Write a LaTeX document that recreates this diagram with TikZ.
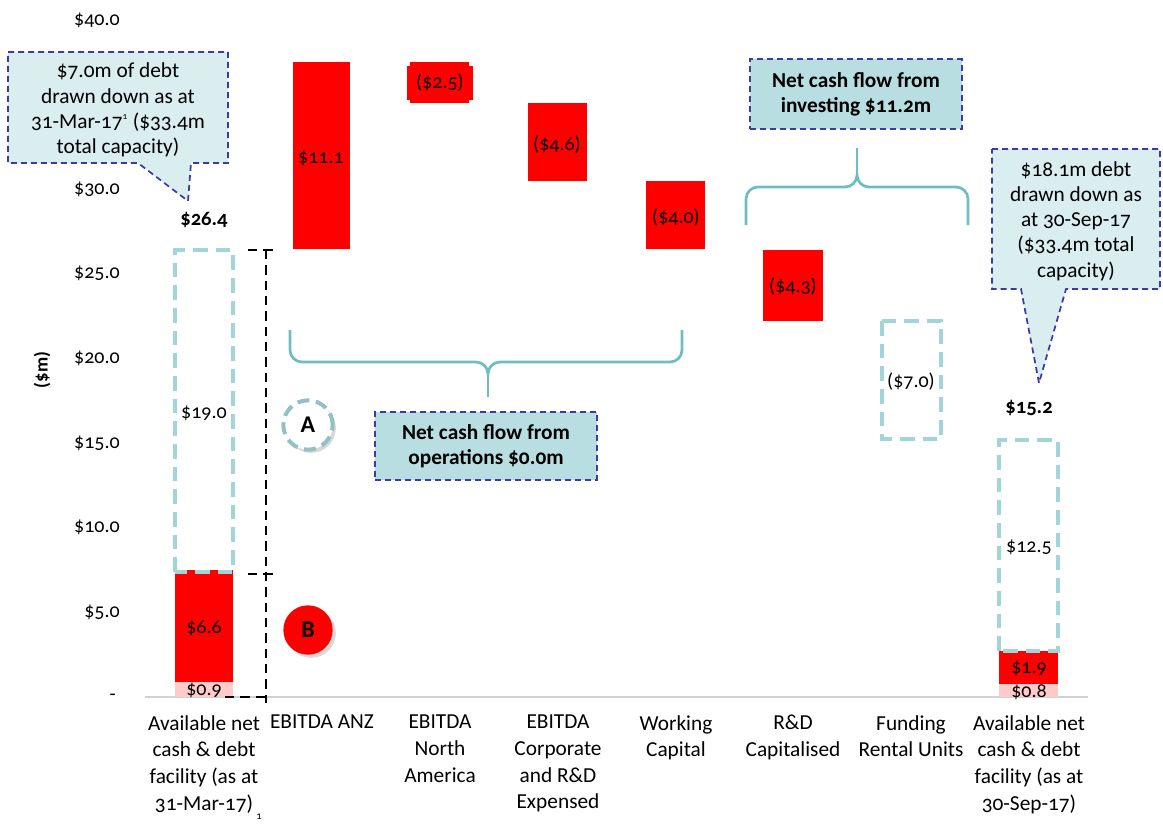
\documentclass[tikz,border=0pt]{standalone}
\usepackage{fontspec}
\setmainfont{Carlito}[Numbers=OldStyle]
\usetikzlibrary{positioning,shadows}

\definecolor{barred}{HTML}{FF0000}
\definecolor{barpink}{HTML}{FFCACA}
\definecolor{capteal}{HTML}{A2D5DA}
\definecolor{braceteal}{HTML}{6DBEC4}
\definecolor{boxblue}{HTML}{3B3BA3}
\definecolor{boxpale}{HTML}{DAEEF0}
\definecolor{boxteal}{HTML}{B8DEE2}

\begin{document}
\begin{tikzpicture}[
    x=0.75pt, y=-0.75pt,
    redbar/.style={fill=barred},
    pinkbar/.style={fill=barpink},
    capbar/.style={draw=capteal, line width=3pt, dash pattern=on 11pt off 6pt},
    val/.style={font=\fontsize{15}{17}\selectfont, inner sep=0pt},
    total/.style={font=\bfseries\fontsize{15.5}{17}\selectfont, inner sep=0pt},
    tick/.style={font=\fontsize{15}{17}\selectfont, anchor=east, inner sep=0pt},
    cat/.style={font=\fontsize{16}{20}\selectfont, align=center, anchor=north, inner sep=0pt},
    guide/.style={draw=black, line width=1.8pt, dash pattern=on 7pt off 4.5pt},
    bracket/.style={draw=braceteal, line width=2pt},
    callout/.style={draw=boxblue, fill=boxpale, line width=1.3pt, dash pattern=on 4.5pt off 3pt},
    calltext/.style={font=\fontsize{16}{18.9}\selectfont, align=center, inner sep=0pt},
    flowbox/.style={draw=boxblue, fill=boxteal, line width=1.3pt, dash pattern=on 4.5pt off 3pt,
        font=\bfseries\fontsize{16}{18.8}\selectfont, align=center, inner sep=0pt},
    marker/.style={circle, minimum size=37pt, inner sep=0pt, font=\bfseries\fontsize{18}{20}\selectfont,
        drop shadow={opacity=0.3}}
]
    \useasboundingbox (0,0) rectangle (1163,824);

    % Axis
    \node[tick] (t40) at (120,20) {\$40.0};
    \node[tick] (t30) at (120,189) {\$30.0};
    \node[tick] (t25) at (120,273) {\$25.0};
    \node[tick] (t20) at (120,358) {\$20.0};
    \node[tick] (t15) at (120,443) {\$15.0};
    \node[tick] (t10) at (120,527) {\$10.0};
    \node[tick] (t5) at (120,612) {\$5.0};
    \node[tick] (t0) at (116,697) {-};
    \node[rotate=90, font=\bfseries\fontsize{14}{16}\selectfont] (unit) at (42,370) {(\$m)};
    \draw[gray!35, line width=1.5pt] (145,697) -- (1088,697);

    % Opening position
    \path[pinkbar] (175,682) rectangle (233,697);
    \path[redbar] (175,570) rectangle (233,682);
    \draw[capbar] (175,572) rectangle (233,250);
    \node[val] (open09) at (204,690) {\$0.9};
    \node[val] (open66) at (204,628) {\$6.6};
    \node[val] (open190) at (204,413) {\$19.0};
    \node[total] (opentot) at (204,220) {\$26.4};

    % Movements
    \path[redbar] (293,62) rectangle (350,249);
    \node[val] (anz) at (321,158) {\$11.1};
    \path[redbar] (410,62) rectangle (469,103);
    \node[val, fill=barred, minimum width=50pt, minimum height=25.5pt] (na) at (440,83) {(\$2.5)};
    \path[redbar] (528,103) rectangle (587,181);
    \node[val] (corp) at (557,145) {(\$4.6)};
    \path[redbar] (646,181) rectangle (705,249);
    \node[val] (wcap) at (676,218) {(\$4.0)};
    \path[redbar] (763,250) rectangle (823,321);
    \node[val] (rdcap) at (793,287) {(\$4.3)};
    \draw[capbar] (882,321) rectangle (941,439);
    \node[val] (rental) at (911,382) {(\$7.0)};

    % Closing position
    \path[pinkbar] (999,684) rectangle (1058,697);
    \path[redbar] (999,651) rectangle (1058,684);
    \draw[capbar] (999,651) rectangle (1058,440);
    \node[val] (close08) at (1029,692) {\$0.8};
    \node[val] (close19) at (1029,668) {\$1.9};
    \node[val] (close125) at (1029,547) {\$12.5};
    \node[total] (closetot) at (1029,408) {\$15.2};

    % Categories
    \node[cat] (c1) at (204,715) {Available net\\cash \& debt\\facility (as at\\31-Mar-17)};
    \node[cat] (c2) at (322,715) {EBITDA ANZ};
    \node[cat] (c3) at (440,715) {EBITDA\\North\\America};
    \node[cat] (c4) at (558,715) {EBITDA\\Corporate\\and R\&D\\Expensed};
    \node[cat] (c5) at (676,715) {Working\\Capital};
    \node[cat] (c6) at (793,715) {R\&D\\Capitalised};
    \node[cat] (c7) at (911,715) {Funding\\Rental Units};
    \node[cat] (c8) at (1029,715) {Available net\\cash \& debt\\facility (as at\\30-Sep-17)};
    \node[font=\fontsize{8}{9}\selectfont, inner sep=0pt] (note) at (259,817) {1};

    % Guide lines
    \draw[guide] (248,250) -- (276,250);
    \draw[guide] (248,574) -- (276,574);
    \draw[guide] (225,697) -- (266,697);
    \draw[guide] (266,250) -- (266,703);

    % Braces
    \draw[bracket] (290,330) -- (290,350) to[out=-90,in=180] (302,362) -- (476,362)
        to[out=0,in=90] (488,374) to[out=90,in=180] (500,362) -- (670,362)
        to[out=0,in=-90] (682,350) -- (682,330);
    \draw[bracket] (488,374) -- (488,397);
    \draw[bracket] (746,225) -- (746,199) to[out=90,in=180] (758,187) -- (845,187)
        to[out=0,in=-90] (857,175) to[out=-90,in=180] (869,187) -- (956,187)
        to[out=0,in=90] (968,199) -- (968,225);
    \draw[bracket] (857,175) -- (857,148);

    % Flow boxes
    \node[flowbox, minimum width=166pt, minimum height=51pt] (opsbox) at (486,446)
        {Net cash flow from\\operations \$0.0m};
    \node[flowbox, minimum width=159pt, minimum height=52pt] (invbox) at (856,94)
        {Net cash flow from\\investing \$11.2m};

    % Callouts
    \draw[callout] (8,52) -- (228,52) -- (228,163) -- (191,163) -- (188,201) -- (138,163) -- (8,163) -- cycle;
    \node[calltext] (opennote) at (118,110)
        {\$7.0m of debt\\drawn down as at\\31-Mar-17\textsuperscript{\scriptsize 1} (\$33.4m\\total capacity)};
    \draw[callout] (992,149) -- (1160,149) -- (1160,289) -- (1066,289) -- (1039,383) -- (1021,289) -- (992,289) -- cycle;
    \node[calltext] (closenote) at (1076,221)
        {\$18.1m debt\\drawn down as\\at 30-Sep-17\\(\$33.4m total\\capacity)};

    % Markers
    \node[marker, draw=capteal!90!black, line width=3pt, dash pattern=on 9pt off 5pt, fill=white] (markA) at (308,425) {A};
    \node[marker, fill=barred] (markB) at (308,630) {B};
\end{tikzpicture}
\end{document}
